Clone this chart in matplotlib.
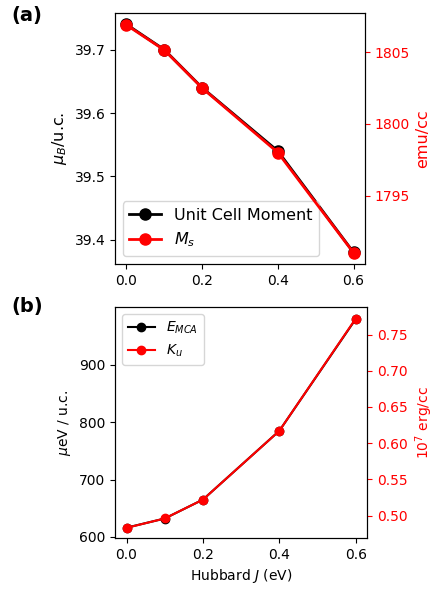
import matplotlib.pyplot as plt
import numpy as np

J = [0.0, 0.1, 0.2, 0.4, 0.6]

moment = [39.74, 39.70, 39.64, 39.54, 39.38]
Ms = [1806.9, 1805.15, 1802.5, 1798.0, 1791.0]

E_mca = [616, 632, 665, 785, 980]
Ku = [0.483, 0.496, 0.522, 0.617, 0.772]

fig = plt.figure(figsize=(4.36, 5.89), dpi=100)

# (a) moment
ax1 = fig.add_axes([0.264, 0.552, 0.573, 0.426])
ax1r = ax1.twinx()
l1, = ax1.plot(J, moment, color='black', marker='o', linewidth=2, markersize=8, label='Unit Cell Moment')
l2, = ax1r.plot(J, Ms, color='red', marker='o', linewidth=2, markersize=8, label='$M_s$')
ax1.set_ylim(39.362, 39.758)
ax1r.set_ylim(1790.23, 1807.74)
ax1.set_yticks([39.4, 39.5, 39.6, 39.7])
ax1r.set_yticks([1795, 1800, 1805])
ax1.set_xticks([0.0, 0.2, 0.4, 0.6])
ax1.set_ylabel(r'$\mu_B$/u.c.', fontsize=11.5)
ax1r.set_ylabel('emu/cc', color='red', fontsize=11.5)
ax1r.tick_params(axis='y', colors='red')
ax1r.spines['right'].set_color('black')
ax1.legend(handles=[l1, l2], loc='lower left', fontsize=11.5)
fig.text(0.025, 0.965, '(a)', fontsize=14, fontweight='bold')

# (b) anisotropy
ax2 = fig.add_axes([0.264, 0.0866, 0.578, 0.392])
ax2r = ax2.twinx()
l3, = ax2.plot(J, E_mca, color='black', marker='o', linewidth=1.5, markersize=6, label='$E_{MCA}$')
l4, = ax2r.plot(J, Ku, color='red', marker='o', linewidth=1.5, markersize=6, label='$K_u$')
ax2.set_ylim(598, 1001)
ax2r.set_ylim(0.469, 0.788)
ax2.set_yticks([600, 700, 800, 900])
ax2r.set_yticks([0.50, 0.55, 0.60, 0.65, 0.70, 0.75])
ax2.set_xticks([0.0, 0.2, 0.4, 0.6])
ax2.set_xlabel('Hubbard $J$ (eV)')
ax2.set_ylabel(r'$\mu$eV / u.c.')
ax2r.set_ylabel(r'$10^7$ erg/cc', color='red')
ax2r.tick_params(axis='y', colors='red')
ax2.legend(handles=[l3, l4], loc='upper left')
fig.text(0.025, 0.47, '(b)', fontsize=14, fontweight='bold')

plt.savefig('out.png', dpi=100)
